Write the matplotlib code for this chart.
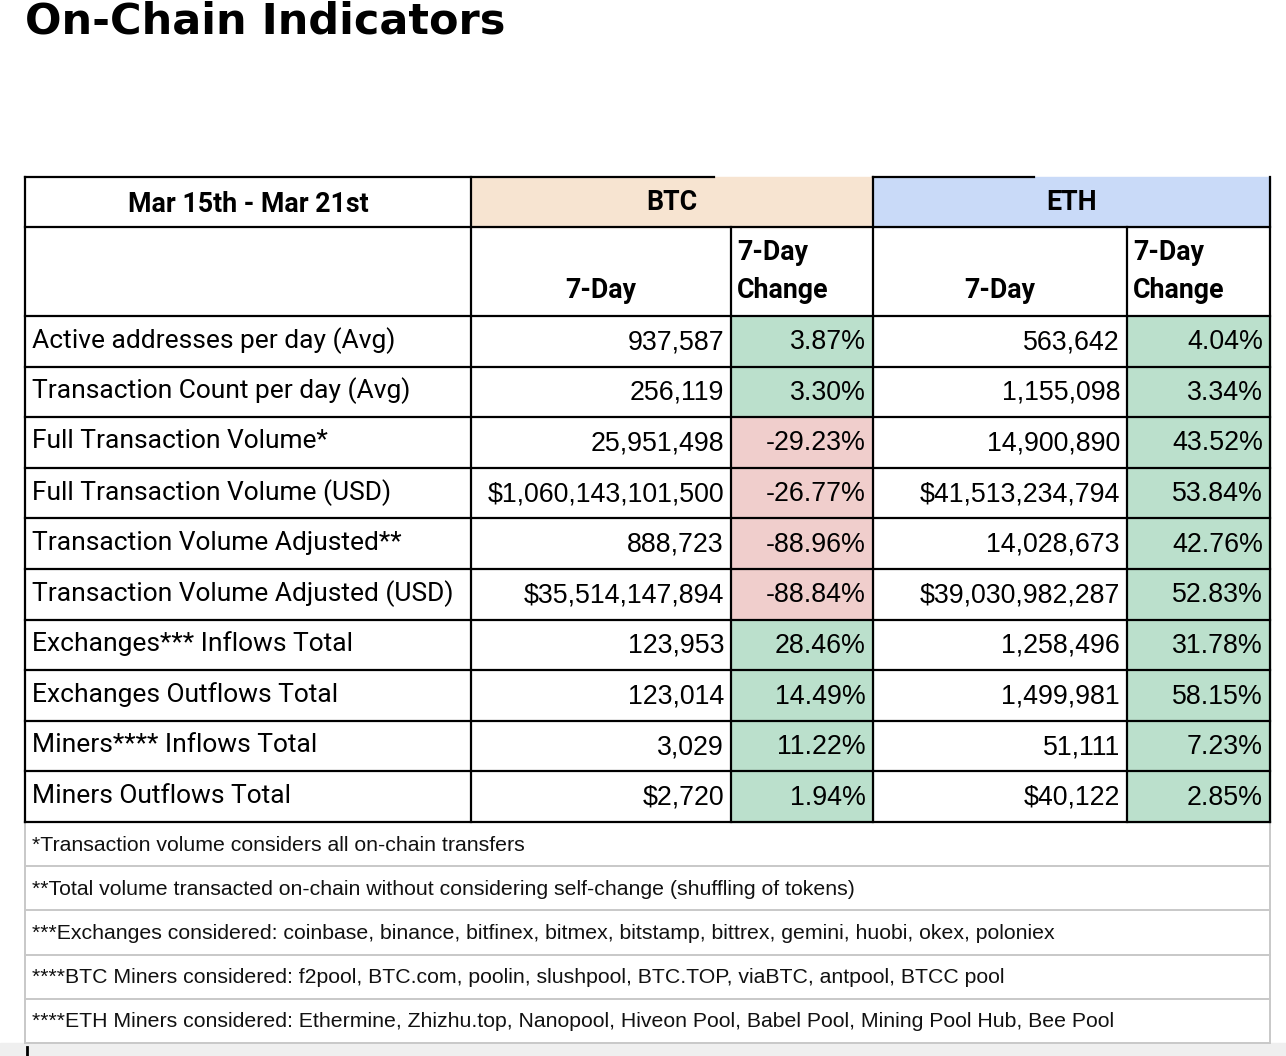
import numpy as np
import matplotlib.pyplot as plt
from matplotlib.patches import Rectangle

title = "On-Chain Indicators"
period = "Mar 15th - Mar 21st"
coins = ["BTC", "ETH"]

metrics = ["Active addresses per day (Avg)", "Transaction Count per day (Avg)",
           "Full Transaction Volume*", "Full Transaction Volume (USD)",
           "Transaction Volume Adjusted**", "Transaction Volume Adjusted (USD)",
           "Exchanges*** Inflows Total", "Exchanges Outflows Total",
           "Miners**** Inflows Total", "Miners Outflows Total"]
btc_values = ["937,587", "256,119", "25,951,498", "$1,060,143,101,500", "888,723",
              "$35,514,147,894", "123,953", "123,014", "3,029", "$2,720"]
btc_changes = [3.87, 3.30, -29.23, -26.77, -88.96, -88.84, 28.46, 14.49, 11.22, 1.94]
eth_values = ["563,642", "1,155,098", "14,900,890", "$41,513,234,794", "14,028,673",
              "$39,030,982,287", "1,258,496", "1,499,981", "51,111", "$40,122"]
eth_changes = [4.04, 3.34, 43.52, 53.84, 42.76, 52.83, 31.78, 58.15, 7.23, 2.85]

footnotes = ["*Transaction volume considers all on-chain transfers",
             "**Total volume transacted on-chain without considering self-change (shuffling of tokens)",
             "***Exchanges considered: coinbase, binance, bitfinex, bitmex, bitstamp, bittrex, gemini, huobi, okex, poloniex",
             "****BTC Miners considered: f2pool, BTC.com, poolin, slushpool, BTC.TOP, viaBTC, antpool, BTCC pool",
             "****ETH Miners considered: Ethermine, Zhizhu.top, Nanopool, Hiveon Pool, Babel Pool, Mining Pool Hub, Bee Pool"]

W, H = 1286, 1056
fig = plt.figure(figsize=(W / 100, H / 100), dpi=100)
ax = fig.add_axes([0, 0, 1, 1])
ax.set_xlim(0, W)
ax.set_ylim(H, 0)
ax.axis("off")

GREEN, RED = "#bbe0cc", "#f0cecc"
PEACH, BLUE = "#f7e4d1", "#c9daf8"
TFONT = ["Roboto", "DejaVu Sans"]
NFONT = ["Liberation Sans", "DejaVu Sans"]
HS = 19.3   # header size
LS = 19     # label size
NS = 19.3   # number size

# column edges and row edges (pixels)
cols = [25, 471, 731, 873, 1127, 1270]
top, h1, h2 = 177, 227, 316
row_h = (822 - h2) / len(metrics)
rows = h2 + row_h * np.arange(len(metrics) + 1)
foot_top = 822
foot_h = (1043 - foot_top) / len(footnotes)

ax.add_patch(Rectangle((0, 1043), W, H - 1043, color="#efefef", zorder=0))

ax.text(25, 21, title, fontsize=31, fontweight="bold", family="DejaVu Sans",
        va="center", ha="left")

# header row 1
ax.add_patch(Rectangle((cols[1], top), cols[3] - cols[1], h1 - top, color=PEACH, zorder=1))
ax.add_patch(Rectangle((cols[3], top), cols[5] - cols[3], h1 - top, color=BLUE, zorder=1))
ax.text((cols[0] + cols[1]) / 2, (top + h1) / 2 + 2, period, fontsize=HS, fontweight="bold",
        family=TFONT, ha="center", va="center")
ax.text((cols[1] + cols[3]) / 2, (top + h1) / 2, coins[0], fontsize=HS, fontweight="bold",
        family=TFONT, ha="center", va="center")
ax.text((cols[3] + cols[5]) / 2, (top + h1) / 2, coins[1], fontsize=HS, fontweight="bold",
        family=TFONT, ha="center", va="center")

# header row 2
for c0, c1 in [(cols[1], cols[2]), (cols[3], cols[4])]:
    ax.text((c0 + c1) / 2, 290, "7-Day", fontsize=HS, fontweight="bold", family=TFONT,
            ha="center", va="center")
for c0 in [cols[2], cols[4]]:
    ax.text(c0 + 6, 253, "7-Day", fontsize=HS, fontweight="bold", family=TFONT,
            ha="left", va="center")
    ax.text(c0 + 6, 290, "Change", fontsize=HS, fontweight="bold", family=TFONT,
            ha="left", va="center")

# body
for i, name in enumerate(metrics):
    y0, y1 = rows[i], rows[i + 1]
    yc = (y0 + y1) / 2
    for c0, c1, ch in [(cols[2], cols[3], btc_changes[i]), (cols[4], cols[5], eth_changes[i])]:
        ax.add_patch(Rectangle((c0, y0), c1 - c0, y1 - y0,
                               color=GREEN if ch >= 0 else RED, zorder=1))
    ax.text(cols[0] + 7, yc - 1, name, fontsize=LS, family=TFONT, ha="left", va="center")
    ax.text(cols[2] - 7, yc + 1, btc_values[i], fontsize=NS, family=NFONT, ha="right", va="center")
    ax.text(cols[3] - 7, yc + 1, f"{btc_changes[i]:.2f}%", fontsize=NS, family=NFONT,
            ha="right", va="center")
    ax.text(cols[4] - 7, yc + 1, eth_values[i], fontsize=NS, family=NFONT, ha="right", va="center")
    ax.text(cols[5] - 7, yc + 1, f"{eth_changes[i]:.2f}%", fontsize=NS, family=NFONT,
            ha="right", va="center")

# footnotes
for j, note in enumerate(footnotes):
    y0 = foot_top + j * foot_h
    ax.text(cols[0] + 7, y0 + foot_h / 2 + 1, note, fontsize=15.3, family=NFONT,
            ha="left", va="center", color="#111111")
    ax.plot([cols[0], cols[5]], [y0 + foot_h] * 2, color="#c8c8c8", lw=1.4, zorder=3)
ax.plot([cols[0], cols[0]], [foot_top, 1043], color="#c8c8c8", lw=1.4, zorder=3)
ax.plot([cols[5], cols[5]], [foot_top, 1043], color="#c8c8c8", lw=1.4, zorder=3)

# black grid lines
lw = 1.6
ax.plot([cols[0], 714], [top, top], color="black", lw=lw, zorder=4)
ax.plot([cols[3], 1034], [top, top], color="black", lw=lw, zorder=4)
for y in [h1, h2] + list(rows[1:]):
    ax.plot([cols[0], cols[5]], [y, y], color="black", lw=lw, zorder=4)
for x in [cols[0], cols[1], cols[3], cols[5]]:
    ax.plot([x, x], [top, foot_top], color="black", lw=lw, zorder=4)
for x in [cols[2], cols[4]]:
    ax.plot([x, x], [h1, foot_top], color="black", lw=lw, zorder=4)

ax.plot([27, 27], [1047, H], color="black", lw=2, zorder=4)

fig.savefig("out.png", dpi=100)
